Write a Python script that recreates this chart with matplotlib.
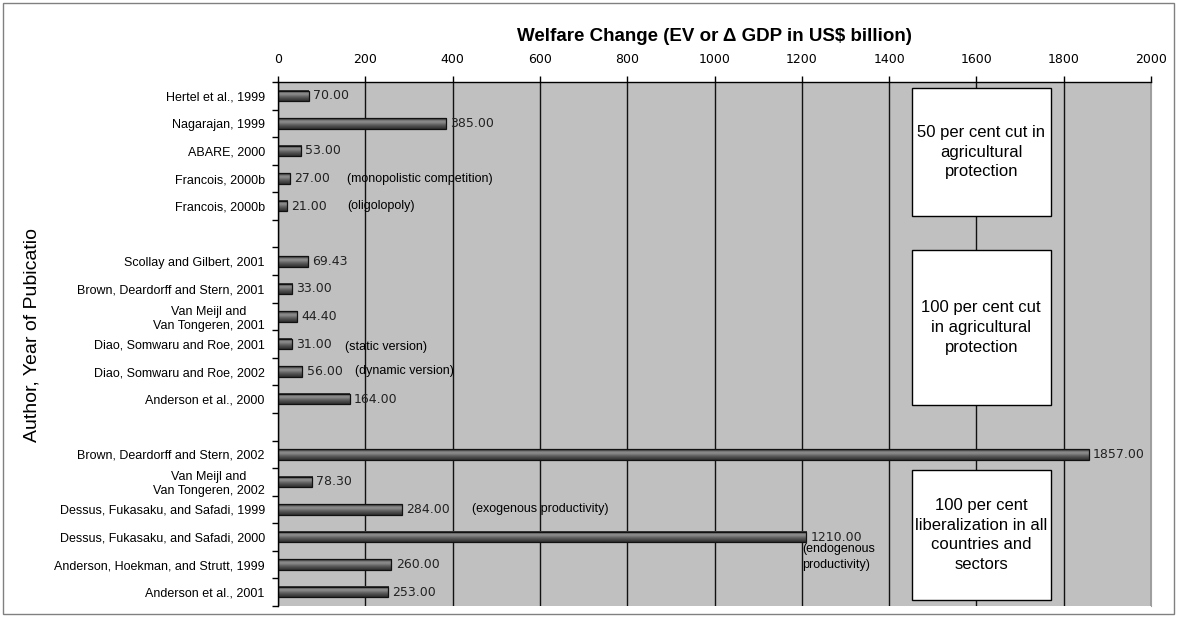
import matplotlib
matplotlib.use('Agg')
import matplotlib.pyplot as plt
from matplotlib.patches import Rectangle
import numpy as np

# data
group1_labels = ['Hertel et al., 1999', 'Nagarajan, 1999', 'ABARE, 2000',
                 'Francois, 2000b', 'Francois, 2000b']
group1_values = [70.00, 385.00, 53.00, 27.00, 21.00]

group2_labels = ['Scollay and Gilbert, 2001', 'Brown, Deardorff and Stern, 2001',
                 'Van Meijl and\nVan Tongeren, 2001', 'Diao, Somwaru and Roe, 2001',
                 'Diao, Somwaru and Roe, 2002', 'Anderson et al., 2000']
group2_values = [69.43, 33.00, 44.40, 31.00, 56.00, 164.00]

group3_labels = ['Brown, Deardorff and Stern, 2002', 'Van Meijl and\nVan Tongeren, 2002',
                 'Dessus, Fukasaku, and Safadi, 1999', 'Dessus, Fukasaku, and Safadi, 2000',
                 'Anderson, Hoekman, and Strutt, 1999', 'Anderson et al., 2001']
group3_values = [1857.00, 78.30, 284.00, 1210.00, 260.00, 253.00]

group_notes = ['50 per cent cut in\nagricultural\nprotection',
               '100 per cent cut\nin agricultural\nprotection',
               '100 per cent\nliberalization in all\ncountries and\nsectors']

# side notes: (row slot incl. gaps, text)
side_notes = [(3, '(monopolistic competition)'), (4, '(oligolopoly)'),
              (9, '(static version)'), (10, '(dynamic version)'),
              (15, '(exogenous productivity)'), (16, '(endogenous\nproductivity)')]

# build positions with one empty slot between groups
groups = [(group1_labels, group1_values), (group2_labels, group2_values),
          (group3_labels, group3_values)]
labels, values, pos = [], [], []
slot = 0
for lab, val in groups:
    for l, v in zip(lab, val):
        labels.append(l)
        values.append(v)
        pos.append(slot)
        slot += 1
    slot += 1
n_slots = max(pos)

fig = plt.figure(figsize=(11.77, 6.17), dpi=100)
ax = fig.add_axes([278 / 1177, 1 - 606 / 617, (1151 - 278) / 1177, (606 - 82) / 617])
ax.set_facecolor('#c0c0c0')

# shaded bars (vertical gradient like the old Excel style)
bar_h = 0.38
shade = np.array([0.22, 0.35, 0.5, 0.55, 0.5, 0.42, 0.36, 0.3, 0.25, 0.2]).reshape(-1, 1)
for p, v in zip(pos, values):
    ax.imshow(shade, cmap='gray', vmin=0, vmax=1, aspect='auto', interpolation='bilinear',
              extent=[0, v, p + bar_h / 2, p - bar_h / 2], zorder=2)
ax.barh(pos, values, height=bar_h, facecolor='none', edgecolor='#111111',
        linewidth=0.9, zorder=2.5)

for p, v in zip(pos, values):
    ax.annotate(f'{v:.2f}', (v, p), xytext=(3, 0), textcoords='offset points',
                va='center', ha='left', fontsize=9, family='DejaVu Sans',
                color='#222222', zorder=4)

# note positions (x in data units, y shift in rows)
note_x = {3: 158, 4: 158, 9: 154, 10: 177, 15: 444, 16: 1200}
note_dy = {3: 0, 4: 0, 9: 0.1, 10: -0.02, 15: 0, 16: 0.72}
for row, txt in side_notes:
    ax.text(note_x[row], row + note_dy[row], txt, fontsize=9, family='Liberation Sans',
            va='center', ha='left', linespacing=1.45, zorder=4)

# group description boxes
box_y = [(-0.28, 4.36), (5.59, 11.21), (13.57, 18.28)]
for (y0, y1), txt in zip(box_y, group_notes):
    ax.add_patch(Rectangle((1452, y0), 318, y1 - y0, facecolor='white',
                           edgecolor='black', linewidth=1, zorder=3))
    ax.text(1611, (y0 + y1) / 2, txt, ha='center', va='center', fontsize=12,
            family='Liberation Sans', linespacing=1.4, zorder=4)

ax.set_xlim(0, 2000)
ax.set_ylim(n_slots + 0.5, -0.5)
ax.xaxis.tick_top()
ax.set_xticks(np.arange(0, 2001, 200))
ax.tick_params(axis='x', length=4, width=1, labelsize=9, pad=7.5)
for t in ax.get_xticklabels():
    t.set_family('DejaVu Sans')
ax.grid(axis='x', color='#111111', linewidth=1, zorder=1)
ax.set_axisbelow(True)

ax.set_yticks(pos)
ax.set_yticklabels(labels, fontsize=9, family='Liberation Sans')
for t in ax.get_yticklabels():
    t.set_multialignment('center')
ax.set_yticks(np.arange(-0.5, n_slots + 1, 1), minor=True)
ax.tick_params(axis='y', which='major', length=0, pad=9.5)
ax.tick_params(axis='y', which='minor', length=4, width=1)

ax.spines['top'].set_linewidth(1)
ax.spines['left'].set_linewidth(1)
ax.spines['right'].set_color('#a0a0a0')
ax.spines['bottom'].set_visible(False)

ax.xaxis.set_label_position('top')
ax.set_xlabel('Welfare Change (EV or \u0394 GDP in US$ billion)', fontsize=13.5,
              fontweight='bold', family='Liberation Sans', labelpad=9)

fig.text(32 / 1177, 1 - 335 / 617, 'Author, Year of Pubicatio', rotation=90,
         ha='center', va='center', fontsize=14, family='Liberation Sans')

fig.patches.append(Rectangle((3 / 1177, 3 / 617), 1171 / 1177, 611 / 617,
                             transform=fig.transFigure, fill=False,
                             edgecolor='#808080', linewidth=1))

fig.savefig('out.png', dpi=100)
